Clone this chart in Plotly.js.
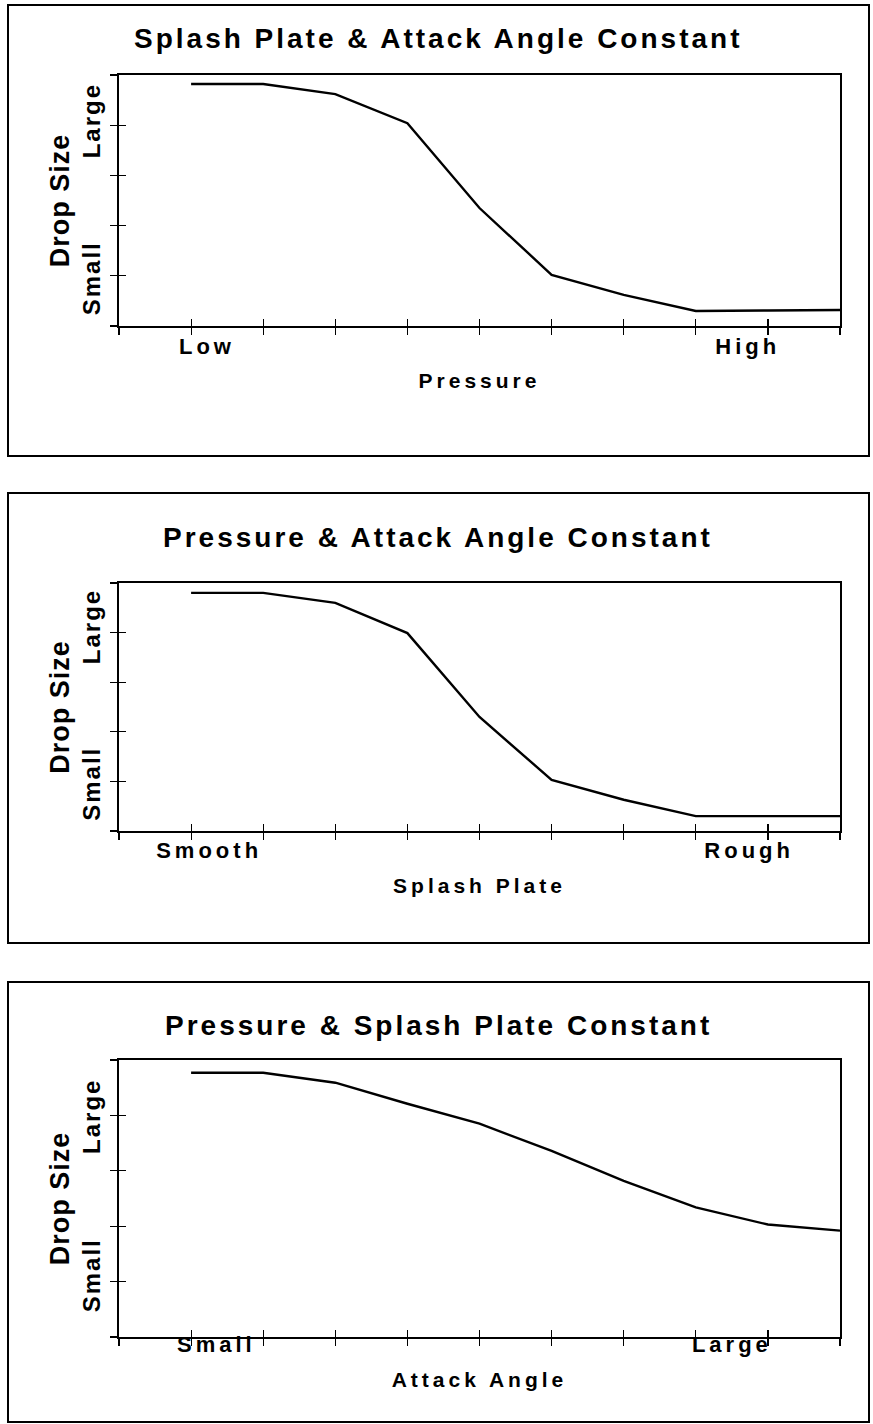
<!DOCTYPE html>
<html>
<head>
<meta charset="utf-8">
<script src="https://cdn.plot.ly/plotly-3.0.1.min.js"></script>
<style>
  html, body { margin: 0; padding: 0; background: #fff; }
  #chart { width: 873px; height: 1424px; }
  .annotation-text { letter-spacing: 3px; }
  .xtick text, .x2tick text, .x3tick text { letter-spacing: 4px; }
  .ytick text, .y2tick text, .y3tick text { letter-spacing: 2px; }
  .xtitle, .x2title, .x3title { letter-spacing: 4px; }
  .ytitle, .y2title, .y3title { letter-spacing: 1px; }
</style>
</head>
<body>
<div id="chart"></div>
<script>
// ---- data ----
const xSteps = [1, 2, 3, 4, 5, 6, 7, 8, 9, 10];
const pressureDrop   = [4.82, 4.82, 4.62, 4.04, 2.35, 1.02, 0.62, 0.30, 0.31, 0.32];
const splashDrop     = [4.80, 4.80, 4.60, 3.99, 2.30, 1.03, 0.63, 0.30, 0.30, 0.30];
const attackDrop     = [4.77, 4.77, 4.59, 4.21, 3.85, 3.36, 2.82, 2.34, 2.03, 1.92];

const panelTitles = ["Splash Plate & Attack Angle Constant",
                     "Pressure & Attack Angle Constant",
                     "Pressure & Splash Plate Constant"];
const xTitles = ["Pressure", "Splash Plate", "Attack Angle"];
const xLabels = [["Low", "High"], ["Smooth", "Rough"], ["Small", "Large"]];
const yLabels = ["Small", "Large"];
const yTitle = "Drop Size";
const xTickMarks = [0, 1, 2, 3, 4, 5, 6, 7, 8, 9, 10];
const yTickMarks = [0, 1, 2, 3, 4, 5];

// ---- layout helpers (pixel geometry of the page) ----
const W = 873, H = 1424;
const px = v => v / W;
const py = v => 1 - v / H;

const FONT = "Liberation Sans, Arial, Helvetica, sans-serif";
const panels = [
  {plotTop: 75,   plotBot: 326,  boxTop: 5,   boxBot: 456,  titleY: 38,   xLabelPos: [1.22, 8.72], yLabelPos: [0.88, 4.02], xStand: 15, xLabelStand: 0},
  {plotTop: 583,  plotBot: 831,  boxTop: 493, boxBot: 943,  titleY: 537,  xLabelPos: [1.25, 8.74], yLabelPos: [0.88, 4.05], xStand: 16, xLabelStand: -1},
  {plotTop: 1060, plotBot: 1337, boxTop: 982, boxBot: 1422, titleY: 1025, xLabelPos: [1.35, 8.5],  yLabelPos: [1.05, 3.92], xStand: 16, xLabelStand: -13}
];
const series = [pressureDrop, splashDrop, attackDrop];

const data = [];
const layout = {
  width: W, height: H,
  margin: {l: 0, r: 0, t: 0, b: 0},
  paper_bgcolor: "#fff", plot_bgcolor: "#fff",
  showlegend: false,
  font: {family: FONT, color: "#000"},
  shapes: [], annotations: []
};

panels.forEach((p, i) => {
  const n = i + 1;
  const xa = n === 1 ? "x" : "x" + n;
  const ya = n === 1 ? "y" : "y" + n;
  const ox = "x" + (n + 3), oy = "y" + (n + 3);
  const xKey = n === 1 ? "xaxis" : "xaxis" + n;
  const yKey = n === 1 ? "yaxis" : "yaxis" + n;

  data.push({
    type: "scatter", mode: "lines",
    x: xSteps, y: series[i],
    xaxis: xa, yaxis: ya,
    line: {color: "#000", width: 2.4},
    hoverinfo: "skip"
  });
  // empty trace registering the overlay subplot (inner halves of tick marks)
  data.push({type: "scatter", mode: "lines", x: [], y: [], xaxis: ox, yaxis: oy, hoverinfo: "skip"});

  layout[xKey] = {
    domain: [px(119), px(840)], anchor: ya, range: [0, 10],
    tickmode: "array", tickvals: p.xLabelPos, ticktext: xLabels[i],
    ticks: "outside", ticklen: 0, ticklabelstandoff: p.xLabelStand,
    tickfont: {family: FONT, size: 22, weight: 700, color: "#000"},
    minor: {tickmode: "array", tickvals: xTickMarks, ticks: "outside", ticklen: 7, tickwidth: 1.2, tickcolor: "#000", showgrid: false},
    showline: true, linecolor: "#000", linewidth: 1.6, mirror: true,
    showgrid: false, zeroline: false, fixedrange: true, automargin: false,
    title: {text: xTitles[i], standoff: p.xStand, font: {family: FONT, size: 21, weight: 700, color: "#000"}}
  };
  layout[yKey] = {
    domain: [py(p.plotBot), py(p.plotTop)], anchor: xa, range: [0, 5],
    tickmode: "array", tickvals: p.yLabelPos, ticktext: yLabels, tickangle: -90,
    ticks: "outside", ticklen: 0, ticklabelstandoff: 8,
    tickfont: {family: FONT, size: 24, weight: 700, color: "#000"},
    minor: {tickmode: "array", tickvals: yTickMarks, ticks: "outside", ticklen: 7, tickwidth: 1.2, tickcolor: "#000", showgrid: false},
    showline: true, linecolor: "#000", linewidth: 1.6, mirror: true,
    showgrid: false, zeroline: false, fixedrange: true, automargin: false,
    title: {text: yTitle, standoff: 0, font: {family: FONT, size: 27, weight: 700, color: "#000"}}
  };
  layout["xaxis" + (n + 3)] = {
    overlaying: xa, anchor: oy, range: [0, 10], side: "bottom",
    tickmode: "array", tickvals: xTickMarks, ticks: "inside", ticklen: 7, tickwidth: 1.2, tickcolor: "#000",
    showticklabels: false, showline: false, showgrid: false, zeroline: false, fixedrange: true
  };
  layout["yaxis" + (n + 3)] = {
    overlaying: ya, anchor: ox, range: [0, 5], side: "left",
    tickmode: "array", tickvals: yTickMarks, ticks: "inside", ticklen: 7, tickwidth: 1.2, tickcolor: "#000",
    showticklabels: false, showline: false, showgrid: false, zeroline: false, fixedrange: true
  };

  layout.shapes.push({
    type: "rect", xref: "paper", yref: "paper",
    x0: px(8), x1: px(869), y0: py(p.boxBot), y1: py(p.boxTop),
    line: {color: "#000", width: 2}, fillcolor: "rgba(0,0,0,0)", layer: "below"
  });
  layout.annotations.push({
    xref: "paper", yref: "paper", x: px(438), y: py(p.titleY),
    xanchor: "center", yanchor: "middle", showarrow: false,
    text: panelTitles[i],
    font: {family: FONT, size: 28, weight: 700, color: "#000"}
  });
});

Plotly.newPlot("chart", data, layout, {staticPlot: true, displayModeBar: false});
</script>
</body>
</html>
